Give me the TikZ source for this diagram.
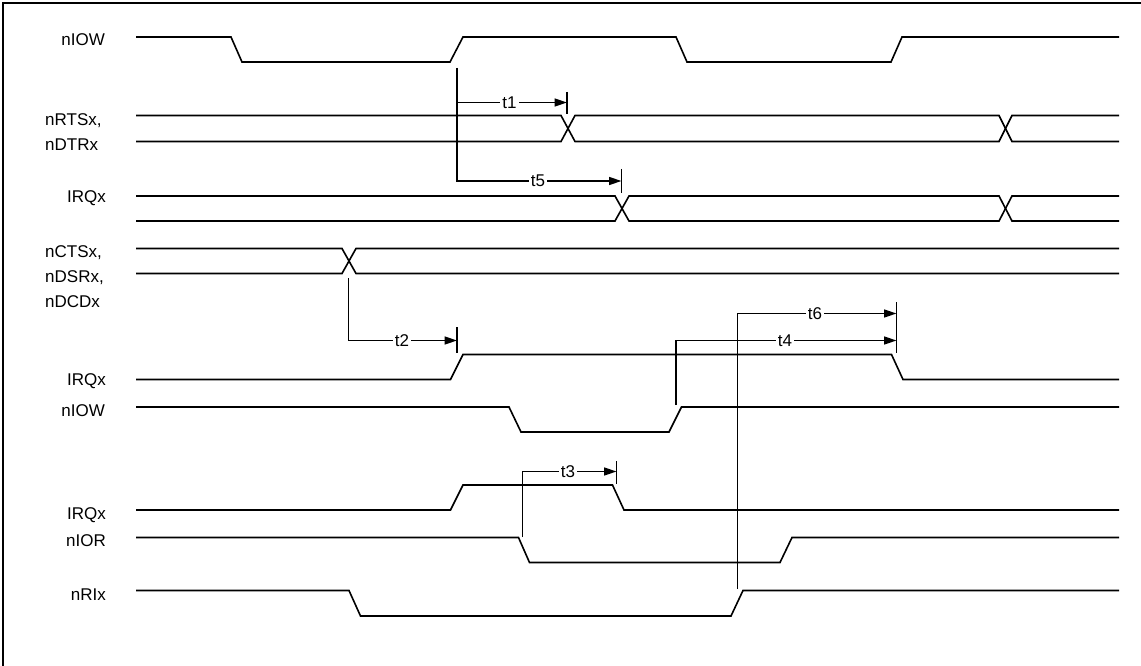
\documentclass[tikz,border=0pt]{standalone}
\usepackage{fontspec}
\setmainfont{Liberation Sans}
\usetikzlibrary{arrows.meta}
\begin{document}
\begin{tikzpicture}[x=1pt,y=-1pt,
  sig/.style={line width=1.6pt, line join=miter},
  tarrow/.style={line width=1.6pt,-{Triangle[length=12.5pt,width=8pt]}},
  tickmark/.style={line width=1.6pt},
  lbl/.style={font=\fontsize{17}{20}\selectfont, inner sep=0pt},
  tlbl/.style={font=\fontsize{17}{20}\selectfont, fill=white, inner xsep=2pt, inner ysep=0pt},
  framel/.style={line width=2pt}]
\useasboundingbox (0,0) rectangle (1141,666);
\draw[framel] (3,666) -- (3,3) -- (1141,3);

% signal labels
\node[lbl, anchor=base east] (lIOW1) at (105,46) {nIOW};
\node[lbl, anchor=base west] (lRTS) at (45,125.5) {nRTSx,};
\node[lbl, anchor=base west] (lDTR) at (45,151) {nDTRx};
\node[lbl, anchor=base east] (lIRQ1) at (106,202) {IRQx};
\node[lbl, anchor=base west] (lCTS) at (45,257) {nCTSx,};
\node[lbl, anchor=base west] (lDSR) at (45,282) {nDSRx,};
\node[lbl, anchor=base west] (lDCD) at (45,307) {nDCDx};
\node[lbl, anchor=base east] (lIRQ2) at (106,385) {IRQx};
\node[lbl, anchor=base east] (lIOW2) at (105,416) {nIOW};
\node[lbl, anchor=base east] (lIRQ3) at (106,519) {IRQx};
\node[lbl, anchor=base east] (lIOR) at (106,546) {nIOR};
\node[lbl, anchor=base east] (lRI) at (106,600) {nRIx};

% waveforms
\draw[sig] (136,37) -- (231,37) -- (242,62) -- (450,62) -- (463,37) -- (676,37) -- (687,62) -- (891,62) -- (902,37) -- (1119,37);

\draw[sig] (136,115.5) -- (561,115.5) -- (575,141.5) -- (999,141.5) -- (1012,115.5) -- (1119,115.5);
\draw[sig] (136,141.5) -- (561,141.5) -- (575,115.5) -- (999,115.5) -- (1012,141.5) -- (1119,141.5);

\draw[sig] (136,196) -- (615,196) -- (629,221) -- (999,221) -- (1012,196) -- (1119,196);
\draw[sig] (136,221) -- (615,221) -- (629,196) -- (999,196) -- (1012,221) -- (1119,221);

\draw[sig] (136,248.5) -- (342,248.5) -- (356,273.5) -- (1119,273.5);
\draw[sig] (136,273.5) -- (342,273.5) -- (356,248.5) -- (1119,248.5);

\draw[sig] (136,379.5) -- (450.5,379.5) -- (463,354.5) -- (891.5,354.5) -- (903,379.5) -- (1119,379.5);

\draw[sig] (136,407) -- (509,407) -- (521,432) -- (669,432) -- (681.5,407) -- (1119,407);

\draw[sig] (136,510) -- (450.5,510) -- (463,485) -- (612.5,485) -- (624,510) -- (1119,510);

\draw[sig] (136,537.5) -- (518.5,537.5) -- (529.5,562.5) -- (780,562.5) -- (792,537.5) -- (1119,537.5);

\draw[sig] (136,590.5) -- (349,590.5) -- (360.5,616) -- (731,616) -- (743,590.5) -- (1119,590.5);

% timing coordinates
\coordinate (a1) at (457,68);
\coordinate (a1m) at (457,102.5);
\coordinate (e1) at (567,102.5);
\coordinate (e5) at (621.5,181);
\coordinate (a2) at (348.5,278);
\coordinate (e2) at (457,340.5);
\coordinate (a4) at (676,405);
\coordinate (e4) at (896.5,340.5);
\coordinate (a6) at (737.5,589);
\coordinate (e6) at (896.5,313.5);
\coordinate (a3) at (522.5,537);
\coordinate (e3) at (616.5,471.5);

% timing arrows
\draw[tarrow] (a1) |- (e5);
\draw[tarrow] (a1m) -- (e1);
\draw[tarrow] (a2) |- (e2);
\draw[tarrow] (a4) |- (e4);
\draw[tarrow] (a6) |- (e6);
\draw[tarrow] (a3) |- (e3);

% ticks
\draw[tickmark] (567,92) -- (567,114);
\draw[tickmark] (621.5,169) -- (621.5,193);
\draw[tickmark] (457,327) -- (457,353);
\draw[tickmark] (896.5,302) -- (896.5,353);
\draw[tickmark] (616.5,461) -- (616.5,484);

% timing labels
\node[tlbl] (t1) at (509.5,102.5) {t1};
\node[tlbl] (t5) at (538,181) {t5};
\node[tlbl] (t2) at (402,340.5) {t2};
\node[tlbl] (t6) at (815,313.5) {t6};
\node[tlbl] (t4) at (785,340.5) {t4};
\node[tlbl] (t3) at (568,471.5) {t3};
\end{tikzpicture}
\end{document}
